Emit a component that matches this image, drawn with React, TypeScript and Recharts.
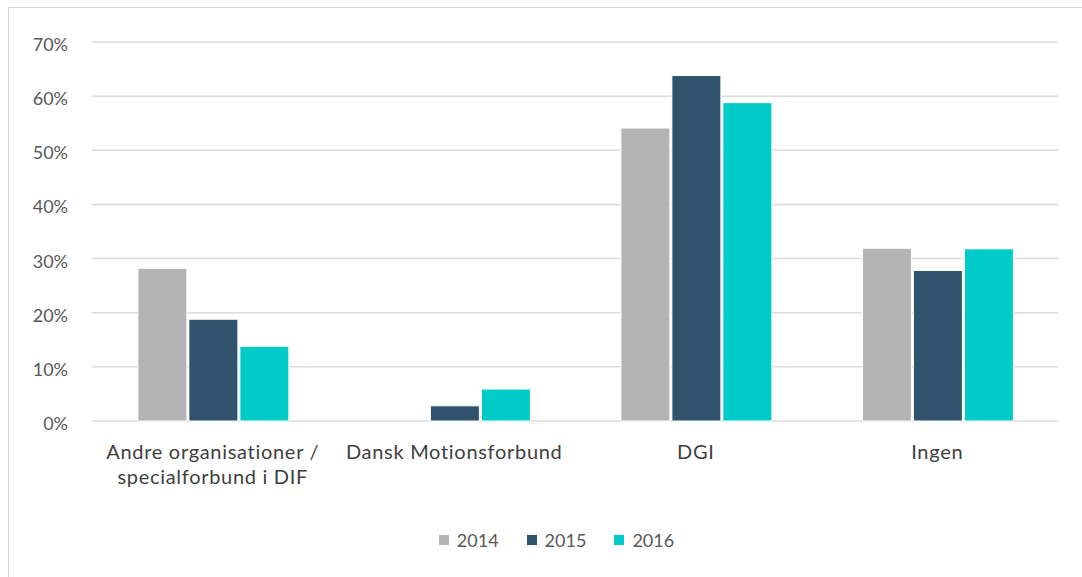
import { BarChart, Bar, XAxis, YAxis, CartesianGrid, Legend } from 'recharts';

const categories = ['Andre organisationer / specialforbund i DIF', 'Dansk Motionsforbund', 'DGI', 'Ingen'];
const tickLines = [['Andre organisationer /', 'specialforbund i DIF'], ['Dansk Motionsforbund'], ['DGI'], ['Ingen']];
const values2014 = [28.2, 0, 54.1, 31.9];
const values2015 = [18.8, 2.8, 63.8, 27.8];
const values2016 = [13.8, 5.9, 58.8, 31.8];
const yTicks = [0, 10, 20, 30, 40, 50, 60, 70];
const seriesKeys = ['2014', '2015', '2016'];
const seriesColors = ['#B4B4B4', '#2F526D', '#00CBC8'];

const data = categories.map((name, i) => ({
  name,
  '2014': values2014[i],
  '2015': values2015[i],
  '2016': values2016[i],
}));

const FONT = 'Lato, "Noto Sans", sans-serif';

function CategoryTick(props: any) {
  const { x, y, payload } = props;
  const lines = tickLines[payload.index] ?? [payload.value];
  return (
    <g transform={`translate(${x},${y})`}>
      {lines.map((line, i) => (
        <text
          key={i}
          x={0}
          y={i * 25}
          dy={11}
          textAnchor="middle"
          fontSize={20}
          letterSpacing={0.7}
          fontFamily={FONT}
          fill="#404040"
        >
          {line}
        </text>
      ))}
    </g>
  );
}

function ValueTick(props: any) {
  const { x, y, payload } = props;
  return (
    <text x={x} y={y} dy={9} textAnchor="end" fontSize={18} fontFamily={FONT} fill="#595959">
      {`${payload.value}%`}
    </text>
  );
}

function LegendBox() {
  return (
    <div
      style={{
        display: 'flex',
        justifyContent: 'center',
        gap: 28,
        paddingLeft: 46,
        position: 'relative',
        top: -2,
        fontFamily: FONT,
        fontSize: 18,
        color: '#595959',
      }}
    >
      {seriesKeys.map((k, i) => (
        <div key={k} style={{ display: 'flex', alignItems: 'center' }}>
          <span style={{ display: 'inline-block', width: 10, height: 10, background: seriesColors[i], marginRight: 8 }} />
          <span>{k}</span>
        </div>
      ))}
    </div>
  );
}

export default function App() {
  return (
    <div style={{ position: 'fixed', left: 0, top: 0, width: 1082, height: 577, overflow: 'hidden', background: '#fff' }}>
      <div
        style={{
          position: 'absolute',
          left: 8,
          top: 7,
          width: 1100,
          height: 600,
          borderLeft: '1px solid #d9d9d9',
          borderTop: '1px solid #d9d9d9',
        }}
      >
        <BarChart
          width={1073}
          height={569}
          data={data}
          margin={{ top: 34, right: 24, left: 0, bottom: 24 }}
          barCategoryGap="19%"
          barGap={2}
        >
          <CartesianGrid vertical={false} stroke="#dcdcdc" strokeWidth={1.5} />
          <XAxis
            dataKey="name"
            axisLine={false}
            tickLine={false}
            tickSize={0}
            tick={<CategoryTick />}
            tickMargin={27}
            height={110}
            interval={0}
          />
          <YAxis
            domain={[0, 70]}
            ticks={yTicks}
            axisLine={false}
            tickLine={false}
            tickSize={0}
            tickMargin={24}
            width={83}
            tick={<ValueTick />}
          />
          <Legend verticalAlign="bottom" content={<LegendBox />} />
          {seriesKeys.map((k, i) => (
            <Bar key={k} dataKey={k} fill={seriesColors[i]} stroke="#ffffff" strokeWidth={1} isAnimationActive={false} />
          ))}
        </BarChart>
      </div>
    </div>
  );
}
